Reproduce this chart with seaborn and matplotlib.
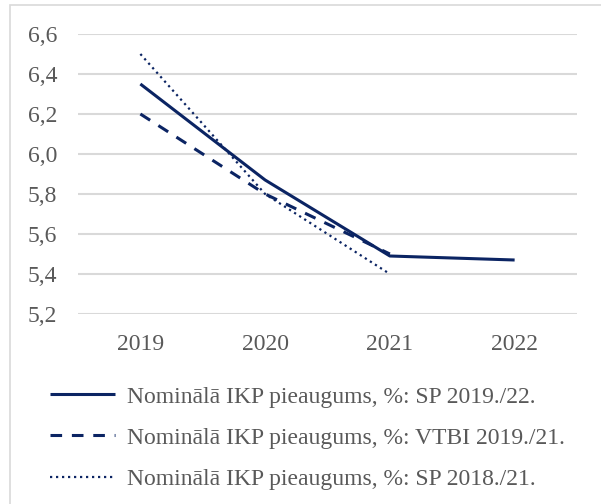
import matplotlib
matplotlib.use("Agg")
import matplotlib.pyplot as plt
import seaborn as sns
import pandas as pd
from matplotlib.patches import Rectangle

years = [2019, 2020, 2021, 2022]
sp_2019_22 = [6.35, 5.87, 5.49, 5.47]
vtbi_2019_21 = [6.2, 5.8, 5.5]
sp_2018_21 = [6.5, 5.8, 5.4]
labels = [
    "Nominālā IKP pieaugums, %: SP 2019./22.",
    "Nominālā IKP pieaugums, %: VTBI 2019./21.",
    "Nominālā IKP pieaugums, %: SP 2018./21.",
]
yticks = [5.2, 5.4, 5.6, 5.8, 6.0, 6.2, 6.4, 6.6]

sns.set_theme(style="white")
plt.rcParams['font.family'] = ['Liberation Serif', 'DejaVu Serif']

color = "#0b2463"
grey = "#595959"
fs = 17

fig = plt.figure(figsize=(6.01, 5.04), dpi=100)
ax = fig.add_axes([78/601, 1-314/504, (577-78)/601, (314-34)/504])

d1 = pd.DataFrame({"year": years, "val": sp_2019_22})
d2 = pd.DataFrame({"year": years[:3], "val": vtbi_2019_21})
d3 = pd.DataFrame({"year": years[:3], "val": sp_2018_21})

sns.lineplot(data=d1, x="year", y="val", ax=ax, color=color, lw=2.2,
             label=labels[0], solid_capstyle="butt")
sns.lineplot(data=d2, x="year", y="val", ax=ax, color=color, lw=2.2,
             label=labels[1], linestyle=(0, (3.8, 3.2)))
sns.lineplot(data=d3, x="year", y="val", ax=ax, color=color, lw=1.6,
             label=labels[2], linestyle=(0, (1, 1.7)))

ax.set_xlim(2018.5, 2022.5)
ax.set_ylim(5.2, 6.6)
ax.set_xticks(years)
ax.set_xticklabels([str(y) for y in years])
ax.set_yticks(yticks)
ax.set_yticklabels([f"{v:.1f}".replace(".", ",") for v in yticks])
ax.set_xlabel("")
ax.set_ylabel("")
ax.yaxis.grid(True, color="#d9d9d9", lw=1.5)
ax.xaxis.grid(False)
for s in ax.spines.values():
    s.set_visible(False)
ax.tick_params(axis="both", length=0, labelsize=fs, labelcolor=grey)
ax.tick_params(axis="y", pad=15)
ax.tick_params(axis="x", pad=14.5)
ax.set_axisbelow(True)

h, l = ax.get_legend_handles_labels()
ax.get_legend().remove()
fig.legend(h, l, loc="upper left", bbox_to_anchor=(50/601, 1-386/504),
           frameon=False, fontsize=fs, labelcolor=grey,
           handlelength=2.75, handletextpad=0.5, labelspacing=0.83,
           borderaxespad=0, borderpad=0)

fig.patches.append(Rectangle((10/601, -0.01), 1.02, 1-5/504+0.01,
                             transform=fig.transFigure, fill=False,
                             edgecolor="#d9d9d9", lw=1.2))

fig.savefig("out.png", dpi=100)
